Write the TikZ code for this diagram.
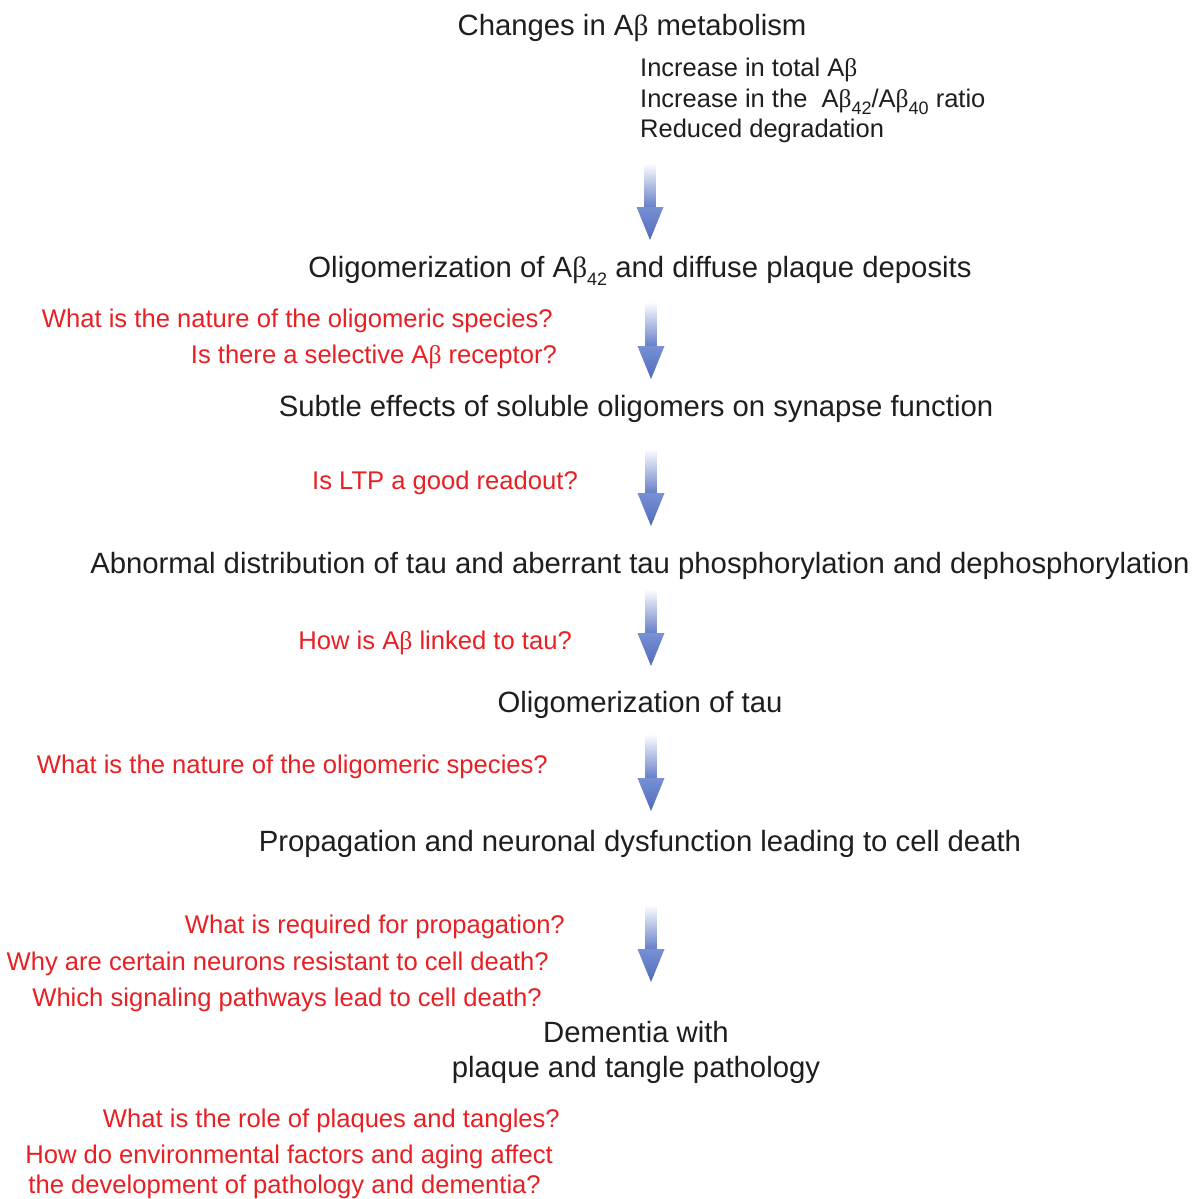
\documentclass[tikz,border=0pt]{standalone}
\usepackage{fontspec}
\setmainfont{Liberation Sans}
\newfontfamily\greekf{Liberation Serif}
\definecolor{qred}{RGB}{232,32,36}
\definecolor{txtgray}{RGB}{30,30,30}
\definecolor{arrblue}{RGB}{98,124,200}
\definecolor{headtop}{RGB}{120,145,212}
\definecolor{headbot}{RGB}{80,106,186}
\newcommand\Ab{A{\greekf β}}
\newcommand\lowidx[1]{\raisebox{-0.28em}{\fontsize{18}{18}\selectfont #1}}
\tikzset{
  stage/.style={anchor=base, text=txtgray, font=\fontsize{29.3}{34}\selectfont, inner sep=0pt},
  small/.style={anchor=base west, text=txtgray, font=\fontsize{25.5}{30}\selectfont, inner sep=0pt},
  quest/.style={anchor=base east, text=qred, font=\fontsize{25.6}{32}\selectfont, inner sep=0pt},
  pics/downarrow/.style={code={
    \shade[top color=white, bottom color=arrblue] (-5.5,0) rectangle (5.5,45);
    \shade[top color=headtop, bottom color=headbot] (-13.5,44) -- (13.5,44) -- (0,77) -- cycle;
  }}
}
\begin{document}
\begin{tikzpicture}[x=1pt,y=-1pt]
\useasboundingbox[fill=white] (0,0) rectangle (1198,1199);

\node[stage] (s0) at (632,36) {Changes in \Ab{} metabolism};
\node[small] (m1) at (640,77) {Increase in total \Ab};
\node[small] (m2) at (640,107) {Increase in the \ \Ab\lowidx{42}/\Ab\lowidx{40} ratio};
\node[small] (m3) at (640,137) {Reduced degradation};

\coordinate (a1) at (650,163);
\pic at (a1) {downarrow};

\node[stage] (s1) at (640,277) {Oligomerization of \Ab\lowidx{42} and diffuse plaque deposits};
\node[quest] (q1) at (553,327) {What is the nature of the oligomeric species?};
\node[quest] (q2) at (557,363) {Is there a selective \Ab{} receptor?};

\coordinate (a2) at (651,302);
\pic at (a2) {downarrow};

\node[stage] (s2) at (636,416) {Subtle effects of soluble oligomers on synapse function};
\node[quest] (q3) at (578,489) {Is LTP a good readout?};

\coordinate (a3) at (651,449);
\pic at (a3) {downarrow};

\node[stage] (s3) at (640,573) {Abnormal distribution of tau and aberrant tau phosphorylation and dephosphorylation};
\node[quest] (q4) at (572,649) {How is \Ab{} linked to tau?};

\coordinate (a4) at (651,589);
\pic at (a4) {downarrow};

\node[stage] (s4) at (640,712) {Oligomerization of tau};
\node[quest] (q5) at (548,773) {What is the nature of the oligomeric species?};

\coordinate (a5) at (651,734);
\pic at (a5) {downarrow};

\node[stage] (s5) at (640,851) {Propagation and neuronal dysfunction leading to cell death};
\node[quest] (q6) at (565,933) {What is required for propagation?};
\node[quest] (q7) at (549,970) {Why are certain neurons resistant to cell death?};
\node[quest] (q8) at (542,1006) {Which signaling pathways lead to cell death?};

\coordinate (a6) at (651,905);
\pic at (a6) {downarrow};

\node[stage] (s6a) at (636,1042) {Dementia with};
\node[stage] (s6b) at (636,1077) {plaque and tangle pathology};
\node[quest] (q9) at (560,1127) {What is the role of plaques and tangles?};
\node[quest] (q10) at (553,1163) {How do environmental factors and aging affect};
\node[quest] (q11) at (541,1193) {the development of pathology and dementia?};
\end{tikzpicture}
\end{document}
